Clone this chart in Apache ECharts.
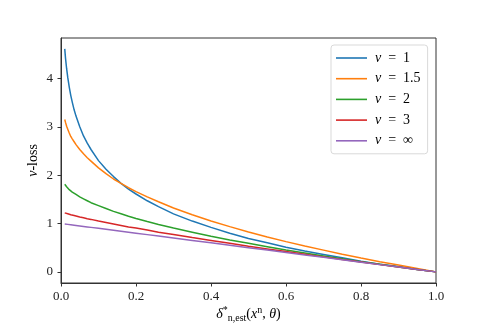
<!DOCTYPE html>
<html>
<head>
<meta charset="utf-8">
<script src="https://cdn.jsdelivr.net/npm/echarts@6/dist/echarts.min.js"></script>
<style>
html,body{margin:0;padding:0;background:#fff;}
#chart{width:485px;height:323px;}
</style>
</head>
<body>
<div id="chart"></div>
<script>
// delta values (x axis)
var deltas    = [0.01, 0.012, 0.015, 0.018, 0.022, 0.026, 0.03, 0.035, 0.04, 0.05, 0.06, 0.07, 0.08, 0.1, 0.12, 0.14, 0.16, 0.18, 0.2, 0.23, 0.26, 0.3, 0.35, 0.4, 0.45, 0.5, 0.55, 0.6, 0.65, 0.7, 0.75, 0.8, 0.85, 0.9, 0.95, 1.0];
// loss values
var lossNu1   = [4.61, 4.42, 4.20, 4.02, 3.82, 3.65, 3.51, 3.35, 3.22, 3.00, 2.81, 2.66, 2.53, 2.30, 2.12, 1.97, 1.83, 1.71, 1.61, 1.47, 1.35, 1.20, 1.05, 0.92, 0.80, 0.69, 0.60, 0.51, 0.43, 0.36, 0.29, 0.22, 0.16, 0.11, 0.05, 0.00];
var lossNu1_5 = [3.15, 3.09, 3.01, 2.95, 2.87, 2.80, 2.75, 2.69, 2.63, 2.53, 2.44, 2.36, 2.29, 2.15, 2.03, 1.92, 1.83, 1.74, 1.66, 1.55, 1.45, 1.32, 1.18, 1.05, 0.935, 0.825, 0.72, 0.625, 0.535, 0.45, 0.365, 0.285, 0.21, 0.14, 0.07, 0.00];
var lossNu2   = [1.81, 1.78, 1.76, 1.73, 1.70, 1.68, 1.65, 1.63, 1.60, 1.55, 1.51, 1.47, 1.43, 1.37, 1.31, 1.25, 1.20, 1.15, 1.105, 1.04, 0.98, 0.905, 0.82, 0.735, 0.66, 0.59, 0.52, 0.45, 0.39, 0.33, 0.27, 0.21, 0.156, 0.10, 0.05, 0.00];
var lossNu3   = [1.22, 1.215, 1.207, 1.20, 1.19, 1.18, 1.175, 1.165, 1.155, 1.135, 1.12, 1.10, 1.085, 1.05, 1.02, 0.99, 0.96, 0.93, 0.905, 0.865, 0.82, 0.775, 0.71, 0.65, 0.59, 0.53, 0.475, 0.42, 0.365, 0.31, 0.255, 0.205, 0.15, 0.10, 0.05, 0.00];
var lossNuInf = [0.99, 0.988, 0.985, 0.982, 0.978, 0.974, 0.97, 0.965, 0.96, 0.95, 0.94, 0.93, 0.92, 0.90, 0.88, 0.86, 0.84, 0.82, 0.80, 0.77, 0.74, 0.70, 0.65, 0.60, 0.55, 0.50, 0.45, 0.40, 0.35, 0.30, 0.25, 0.20, 0.15, 0.10, 0.05, 0.00];
var seriesNames = ['ν = 1', 'ν = 1.5', 'ν = 2', 'ν = 3', 'ν = ∞'];
var seriesData = [lossNu1, lossNu1_5, lossNu2, lossNu3, lossNuInf];
var colors = ['#1f77b4', '#ff7f0e', '#2ca02c', '#d62728', '#9467bd'];
var xTicks = [0, 0.2, 0.4, 0.6, 0.8, 1.0];
var yTicks = [0, 1, 2, 3, 4];

function pairs(ys) {
  return deltas.map(function (d, i) { return [d, ys[i]]; });
}

var serif = '"Liberation Serif", "DejaVu Serif", serif';
var axisCol = '#333';

var chart = echarts.init(document.getElementById('chart'), null, {renderer: 'canvas'});
chart.setOption({
  animation: false,
  color: colors,
  grid: {left: 61, right: 49, top: 38, bottom: 40, show: true, borderColor: axisCol, borderWidth: 1,
    backgroundColor: 'transparent', containLabel: false, outerBoundsMode: 'none'},
  legend: {
    orient: 'vertical',
    left: 331, top: 45,
    padding: [5, 7, 5, 5],
    icon: 'rect',
    itemWidth: 31, itemHeight: 1.6, itemGap: 4.7,
    backgroundColor: '#fff',
    borderColor: '#d9d9d9', borderWidth: 1, borderRadius: 3,
    data: seriesNames,
    formatter: function (n) {
      return '{i|ν}{t|\u2002=\u2002' + n.slice(4) + '}';
    },
    textStyle: {
      fontFamily: serif, fontSize: 14, color: '#000', lineHeight: 16,
      rich: {
        i: {fontFamily: serif, fontStyle: 'italic', fontSize: 14, color: '#000', lineHeight: 16, padding: [0, 0, 0, 3]},
        t: {fontFamily: serif, fontSize: 14, color: '#000', lineHeight: 16}
      }
    }
  },
  xAxis: {
    type: 'value', min: 0, max: 1, interval: 0.2,
    axisLine: {show: true, onZero: false, lineStyle: {color: axisCol, width: 1}},
    axisTick: {show: true, inside: false, length: 3.5, lineStyle: {color: axisCol}, customValues: xTicks},
    axisLabel: {fontFamily: serif, fontSize: 13, color: '#222', margin: 7, customValues: xTicks,
      formatter: function (v) { return v.toFixed(1); }},
    splitLine: {show: false},
    name: '{d|δ}{s|*}{b|n,est}{t|(}{d|x}{s|n}{t|, }{d|θ}{t|)}',
    nameLocation: 'middle', nameGap: 22, nameMoveOverlap: false,
    nameTextStyle: {
      fontFamily: serif, fontSize: 14, color: '#000',
      rich: {
        d: {fontFamily: serif, fontStyle: 'italic', fontSize: 14, color: '#000'},
        t: {fontFamily: serif, fontSize: 14, color: '#000'},
        s: {fontFamily: serif, fontSize: 10, color: '#000', padding: [0, 0, 9, 0]},
        b: {fontFamily: serif, fontSize: 10, color: '#000', padding: [7, 0, 0, 0]}
      }
    }
  },
  yAxis: {
    type: 'value', min: -0.23, max: 4.835,
    axisLine: {show: true, onZero: false, lineStyle: {color: axisCol, width: 1}},
    axisTick: {show: true, inside: false, length: 3.5, lineStyle: {color: axisCol}, customValues: yTicks},
    axisLabel: {fontFamily: serif, fontSize: 13, color: '#222', margin: 8, customValues: yTicks,
      formatter: function (v) { return String(Math.round(v)); }},
    splitLine: {show: false},
    name: '{i|ν}{t|-loss}',
    nameLocation: 'middle', nameGap: 21, nameRotate: 90, nameMoveOverlap: false,
    nameTextStyle: {
      fontFamily: serif, fontSize: 14, color: '#000',
      rich: {
        i: {fontFamily: serif, fontStyle: 'italic', fontSize: 14, color: '#000'},
        t: {fontFamily: serif, fontSize: 14, color: '#000'}
      }
    }
  },
  series: seriesNames.map(function (n, i) {
    return {
      name: n, type: 'line', data: pairs(seriesData[i]),
      symbol: 'none', showSymbol: false, smooth: false,
      lineStyle: {width: 1.5, color: colors[i]},
      itemStyle: {color: colors[i]}
    };
  })
});
</script>
</body>
</html>
